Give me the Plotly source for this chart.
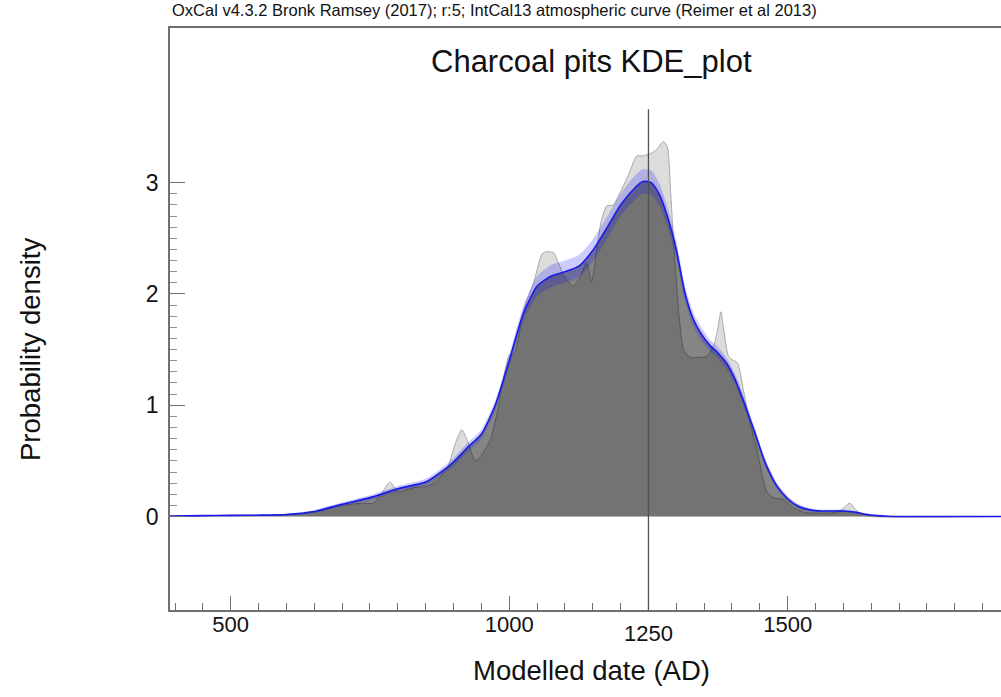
import plotly.graph_objects as go

# ---------------- data ----------------
kde_years = [391, 450, 500, 550, 600, 650, 700, 750, 800, 850, 875, 900, 925, 950, 975,
             1000, 1025, 1050, 1075, 1100, 1125, 1150, 1175, 1200, 1225, 1240, 1255, 1270,
             1285, 1300, 1315, 1330, 1345, 1360, 1375, 1390, 1405, 1420, 1440, 1460, 1480,
             1500, 1520, 1540, 1560, 1580, 1600, 1620, 1640, 1660, 1680, 1700, 1883]
kde_mean = [0.005, 0.008, 0.01, 0.012, 0.018, 0.045, 0.11, 0.17, 0.25, 0.31, 0.39, 0.49, 0.62, 0.74, 1.0,
            1.40, 1.82, 2.07, 2.16, 2.20, 2.25, 2.39, 2.59, 2.80, 2.95, 3.01, 3.00, 2.89,
            2.68, 2.40, 2.02, 1.78, 1.64, 1.54, 1.47, 1.38, 1.24, 1.05, 0.77, 0.48, 0.28,
            0.16, 0.09, 0.06, 0.05, 0.05, 0.05, 0.04, 0.02, 0.008, 0.002, 0.0, 0.0]
kde_sd = [0.003, 0.004, 0.005, 0.006, 0.008, 0.012, 0.018, 0.022, 0.025, 0.03, 0.03, 0.035, 0.04, 0.04, 0.045,
          0.05, 0.07, 0.09, 0.10, 0.10, 0.10, 0.10, 0.10, 0.10, 0.11, 0.11, 0.11, 0.10,
          0.09, 0.08, 0.07, 0.06, 0.06, 0.05, 0.05, 0.05, 0.05, 0.045, 0.04, 0.035, 0.03,
          0.025, 0.02, 0.015, 0.012, 0.012, 0.012, 0.01, 0.008, 0.005, 0.003, 0.002, 0.002]

sum_years = [391, 500, 600, 650, 700, 740, 756, 770, 786, 800, 830, 852, 870, 890, 905, 915, 925,
             939, 950, 966, 978, 990, 1000, 1010, 1026, 1044, 1059, 1068, 1080, 1089, 1100,
             1115, 1127, 1139, 1148, 1157, 1165, 1175, 1187, 1200, 1215, 1229, 1240, 1253,
             1265, 1277, 1284, 1290, 1296, 1301, 1306, 1313, 1325, 1340, 1355, 1368, 1375,
             1380, 1386, 1393, 1400, 1410, 1420, 1432, 1445, 1455, 1463, 1475, 1492, 1510,
             1528, 1558, 1590, 1603, 1612, 1622, 1635, 1650, 1883]
sum_vals = [0.005, 0.01, 0.015, 0.04, 0.10, 0.12, 0.12, 0.20, 0.31, 0.22, 0.26, 0.27, 0.32, 0.45, 0.68, 0.78, 0.68,
            0.50, 0.55, 0.69, 0.92, 1.25, 1.45, 1.47, 1.86, 2.10, 2.36, 2.38, 2.37, 2.27, 2.15,
            2.07, 2.15, 2.28, 2.11, 2.40, 2.65, 2.79, 2.80, 2.92, 3.08, 3.24, 3.24, 3.26,
            3.30, 3.37, 3.32, 2.90, 2.40, 2.05, 1.75, 1.50, 1.43, 1.43, 1.44, 1.55, 1.70,
            1.84, 1.65, 1.45, 1.41, 1.38, 1.15, 0.85, 0.60, 0.35, 0.22, 0.17, 0.15, 0.08,
            0.04, 0.03, 0.04, 0.09, 0.12, 0.06, 0.02, 0.0, 0.0]

x_major = [500, 1000, 1500]
y_major = [0, 1, 2, 3]
marker_year = 1250
marker_top = 3.66

title_text = "Charcoal pits KDE_plot"
caption_text = "OxCal v4.3.2 Bronk Ramsey (2017); r:5; IntCal13 atmospheric curve (Reimer et al 2013)"
x_title = "Modelled date (AD)"
y_title = "Probability density"

# ---------------- figure ----------------
FONT = "Liberation Sans, Arial, sans-serif"
X_RANGE = [391, 1883]
Y_RANGE = [-0.84, 4.39]

upper = [m + s for m, s in zip(kde_mean, kde_sd)]
lower = [max(m - s, 0) for m, s in zip(kde_mean, kde_sd)]

fig = go.Figure()
fig.add_trace(go.Scatter(x=sum_years, y=sum_vals, mode="lines", fill="tozeroy",
                         fillcolor="#dcdcdc", line=dict(color="#a8a8a8", width=1, shape="spline", smoothing=0.6),
                         hoverinfo="skip", showlegend=False))
fig.add_trace(go.Scatter(x=kde_years, y=kde_mean, mode="lines", fill="tozeroy",
                         fillcolor="rgba(0,0,0,0.48)", line=dict(width=0, shape="spline", smoothing=0.6),
                         hoverinfo="skip", showlegend=False))
fig.add_trace(go.Scatter(x=kde_years, y=lower, mode="lines",
                         line=dict(width=0, shape="spline", smoothing=0.6), hoverinfo="skip", showlegend=False))
fig.add_trace(go.Scatter(x=kde_years, y=upper, mode="lines", fill="tonexty",
                         fillcolor="rgba(0,0,255,0.2)", line=dict(width=0, shape="spline", smoothing=0.6),
                         hoverinfo="skip", showlegend=False))
fig.add_trace(go.Scatter(x=kde_years, y=kde_mean, mode="lines",
                         line=dict(color="#1a1aee", width=1.6, shape="spline", smoothing=0.6),
                         hoverinfo="skip", showlegend=False))

fig.add_shape(type="line", x0=marker_year, x1=marker_year, y0=Y_RANGE[0], y1=marker_top,
              xref="x", yref="y", line=dict(color="#505050", width=1.3))

x_minor = list(range(400, 1900, 50))
y_minor = [i / 10 for i in range(1, 30)]

fig.update_xaxes(range=X_RANGE, tickmode="array", tickvals=x_major, ticktext=[str(v) for v in x_major],
                 ticks="inside", ticklen=14, tickwidth=1.3, tickcolor="#707070",
                 showline=True, linecolor="#707070", linewidth=1.8, mirror=True,
                 showgrid=False, zeroline=False,
                 tickfont=dict(family=FONT, size=22, color="#111111"), ticklabelstandoff=-6,
                 minor=dict(tickmode="array", tickvals=x_minor, ticks="inside", ticklen=7,
                            tickwidth=1, tickcolor="#707070", showgrid=False))
fig.update_yaxes(range=Y_RANGE, tickmode="array", tickvals=y_major, ticktext=[str(v) for v in y_major],
                 ticks="inside", ticklen=15, tickwidth=1.3, tickcolor="#707070",
                 showline=True, linecolor="#707070", linewidth=1.8, mirror=False,
                 showgrid=False, zeroline=False,
                 tickfont=dict(family=FONT, size=23, color="#111111"), ticklabelstandoff=5,
                 minor=dict(tickmode="array", tickvals=y_minor, ticks="inside", ticklen=7.5,
                            tickwidth=1, tickcolor="#909090", showgrid=False))

# plot area spans page x 170..1001, y 28..610
PH = 582.0
def py(ypix):
    return (610 - ypix) / PH
def px(xpix):
    return (xpix - 170) / 831.0

annotations = [
    dict(text=caption_text, x=0, y=py(10), xref="paper", yref="paper", xanchor="left", yanchor="middle",
         showarrow=False, font=dict(family=FONT, size=16.5, color="#111111")),
    dict(text=title_text, x=px(591), y=py(61), xref="paper", yref="paper",
         xanchor="center", yanchor="middle", showarrow=False, font=dict(family=FONT, size=31, color="#111111")),
    dict(text=x_title, x=px(591), y=py(670), xref="paper", yref="paper",
         xanchor="center", yanchor="middle", showarrow=False, font=dict(family=FONT, size=27.5, color="#111111")),
    dict(text=y_title, x=px(30), y=py(350), xref="paper", yref="paper", textangle=-90,
         xanchor="center", yanchor="middle", showarrow=False, font=dict(family=FONT, size=27.5, color="#111111")),
    dict(text=str(marker_year), x=marker_year, y=py(633), xref="x", yref="paper",
         xanchor="center", yanchor="middle", showarrow=False, font=dict(family=FONT, size=22, color="#111111")),
]

fig.update_layout(width=1001, height=697, plot_bgcolor="white", paper_bgcolor="white",
                  margin=dict(l=170, r=0, t=28, b=87, autoexpand=False),
                  annotations=annotations, showlegend=False)

fig.write_html("out.html", config={"displayModeBar": False},
               post_script="document.body.style.margin='0px';")
